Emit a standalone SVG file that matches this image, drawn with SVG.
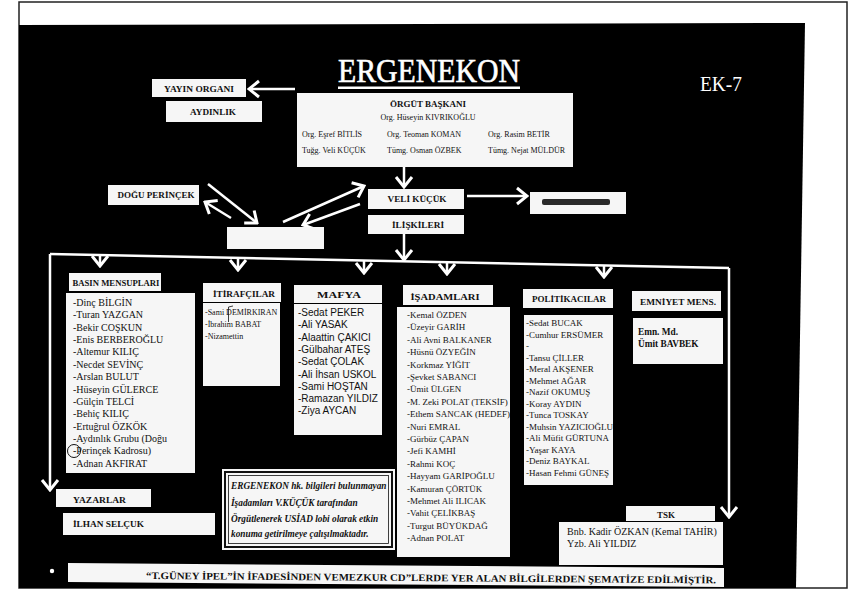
<svg xmlns="http://www.w3.org/2000/svg" width="852" height="591" viewBox="0 0 852 591">
<defs>
<style>
.bx{fill:#f6f6f6}
.lb{font-family:"Liberation Serif",serif;font-weight:bold;font-size:9px;fill:#111}
.it{font-family:"Liberation Serif",serif;font-size:10px;fill:#111}
.i9{font-family:"Liberation Serif",serif;font-size:9px;fill:#111}
.em{font-family:"Liberation Serif",serif;font-size:9.3px;font-weight:bold;fill:#111}
.sm{font-family:"Liberation Serif",serif;font-size:8px;fill:#111}
.ss{font-family:"Liberation Sans",sans-serif;font-size:10px;fill:#111}
.nt{font-family:"Liberation Serif",serif;font-style:italic;font-weight:bold;font-size:9.3px;fill:#111}
.ft{font-family:"Liberation Serif",serif;font-weight:bold;font-size:10px;fill:#111}
.cn{stroke:#fff;stroke-width:2.5;fill:none}
</style>
<marker id="ah" markerUnits="userSpaceOnUse" viewBox="-12 -10 14 20" markerWidth="14" markerHeight="20" refX="0" refY="0" orient="auto">
<path d="M-10,-8 L0,0 L-10,8" fill="none" stroke="#fff" stroke-width="3"/>
</marker>
</defs>
<rect x="0" y="0" width="852" height="591" fill="#fff"/>
<rect x="19" y="2" width="828" height="586" fill="#fff" stroke="#222" stroke-width="1.5"/>
<polygon points="19,25 805,23 796,588 19,588" fill="#000"/>

<g id="title">
<text x="338" y="82" font-family="Liberation Serif, serif" font-size="33" fill="#fff" stroke="#fff" stroke-width="0.6" textLength="182" lengthAdjust="spacingAndGlyphs">ERGENEKON</text>
<rect x="338" y="86.5" width="182" height="2.5" fill="#fff"/>
<text x="700" y="91" font-family="Liberation Serif, serif" font-size="21" fill="#fff" textLength="42" lengthAdjust="spacingAndGlyphs">EK-7</text>
</g>

<g id="connectors">
<line class="cn" x1="295" y1="89" x2="249" y2="89" marker-end="url(#ah)"/>
<line class="cn" x1="404" y1="167" x2="404" y2="187" marker-end="url(#ah)"/>
<line class="cn" x1="208" y1="184" x2="257" y2="223" marker-end="url(#ah)"/>
<line class="cn" x1="231" y1="218" x2="205" y2="202" marker-end="url(#ah)"/>
<line class="cn" x1="283" y1="222" x2="364" y2="186" stroke-width="4" marker-end="url(#ah)"/>
<line class="cn" x1="360" y1="204" x2="303" y2="225" marker-end="url(#ah)"/>
<line class="cn" x1="467" y1="196" x2="527" y2="196" marker-end="url(#ah)"/>
<line class="cn" x1="404" y1="234" x2="404" y2="260" marker-end="url(#ah)"/>
<line class="cn" x1="50" y1="254" x2="729" y2="268" stroke-width="2.2"/>
<line class="cn" x1="50" y1="254" x2="50" y2="490" marker-end="url(#ah)"/>
<line class="cn" x1="729" y1="268" x2="729" y2="517" marker-end="url(#ah)"/>
<line class="cn" x1="100" y1="255" x2="100" y2="266" marker-end="url(#ah)"/>
<line class="cn" x1="238" y1="258" x2="238" y2="270" marker-end="url(#ah)"/>
<line class="cn" x1="364" y1="260.5" x2="364" y2="273" marker-end="url(#ah)"/>
<line class="cn" x1="447" y1="262" x2="447" y2="274" marker-end="url(#ah)"/>
<line class="cn" x1="604" y1="265.5" x2="604" y2="277" marker-end="url(#ah)"/>
</g>

<g id="yayin">
<rect class="bx" x="152" y="79" width="94" height="18"/>
<text class="lb" x="199" y="92" text-anchor="middle" textLength="70" lengthAdjust="spacingAndGlyphs">YAYIN ORGANI</text>
</g>
<g id="aydinlik">
<rect class="bx" x="166" y="101" width="96" height="21"/>
<text class="lb" x="213" y="115" text-anchor="middle" textLength="46" lengthAdjust="spacingAndGlyphs">AYDINLIK</text>
</g>

<g id="orgut">
<rect class="bx" x="297" y="93" width="276" height="74"/>
<text class="lb" x="428" y="107" text-anchor="middle" textLength="76" lengthAdjust="spacingAndGlyphs">ÖRGÜT BAŞKANI</text>
<text class="sm" x="428" y="120" text-anchor="middle">Org. Hüseyin KIVRIKOĞLU</text>
<text class="sm" x="302" y="137">Org. Eşref BİTLİS</text>
<text class="sm" x="387" y="137">Org. Teoman KOMAN</text>
<text class="sm" x="488" y="137">Org. Rasim BETİR</text>
<text class="sm" x="302" y="153">Tuğg. Veli KÜÇÜK</text>
<text class="sm" x="387" y="153">Tümg. Osman ÖZBEK</text>
<text class="sm" x="488" y="153">Tümg. Nejat MÜLDÜR</text>
</g>

<g id="dogu">
<rect class="bx" x="108" y="185" width="91" height="20"/>
<text class="lb" x="156" y="198" text-anchor="middle" textLength="77" lengthAdjust="spacingAndGlyphs">DOĞU PERİNÇEK</text>
</g>
<g id="blank">
<rect class="bx" x="227" y="227" width="97" height="22"/>
</g>
<g id="veli">
<rect class="bx" x="368" y="189" width="96" height="20"/>
<text class="lb" x="417" y="202" text-anchor="middle" textLength="59" lengthAdjust="spacingAndGlyphs">VELİ KÜÇÜK</text>
</g>
<g id="iliskileri">
<rect class="bx" x="368" y="215" width="96" height="19"/>
<text class="lb" x="418" y="228" text-anchor="middle" textLength="52" lengthAdjust="spacingAndGlyphs">İLİŞKİLERİ</text>
</g>
<g id="redacted">
<rect class="bx" x="530" y="192" width="96" height="22"/>
<rect x="542" y="199" width="68" height="6" rx="2" fill="#2a2a2a"/>
</g>

<g id="basin">
<rect class="bx" x="69" y="273" width="92" height="18"/>
<text class="lb" x="116" y="286" text-anchor="middle" textLength="87" lengthAdjust="spacingAndGlyphs">BASIN MENSUPLARI</text>
<rect class="bx" x="66" y="293" width="129" height="180"/>
<text class="it">
<tspan x="73" y="306">-Dinç BİLGİN</tspan>
<tspan x="73" y="318.4">-Turan YAZGAN</tspan>
<tspan x="73" y="330.7">-Bekir COŞKUN</tspan>
<tspan x="73" y="343.1">-Enis BERBEROĞLU</tspan>
<tspan x="73" y="355.4">-Altemur KILIÇ</tspan>
<tspan x="73" y="367.8">-Necdet SEVİNÇ</tspan>
<tspan x="73" y="380.2">-Arslan BULUT</tspan>
<tspan x="73" y="392.5">-Hüseyin GÜLERCE</tspan>
<tspan x="73" y="404.9">-Gülçin TELCİ</tspan>
<tspan x="73" y="417.2">-Behiç KILIÇ</tspan>
<tspan x="73" y="429.6">-Ertuğrul ÖZKÖK</tspan>
<tspan x="73" y="442">-Aydınlık Grubu (Doğu</tspan>
<tspan x="73" y="454.3">-Perinçek Kadrosu)</tspan>
<tspan x="73" y="466.7">-Adnan AKFIRAT</tspan>
</text>
<circle cx="74" cy="451" r="6.5" fill="none" stroke="#111" stroke-width="1"/>
</g>

<g id="itirafcilar">
<rect class="bx" x="203" y="283" width="78" height="19"/>
<text class="lb" x="244" y="297" text-anchor="middle" textLength="62" lengthAdjust="spacingAndGlyphs">İTİRAFÇILAR</text>
<rect class="bx" x="203" y="303" width="77" height="83"/>
<text class="sm">
<tspan x="205" y="315">-Sami DEMİRKIRAN</tspan>
<tspan x="205" y="327">-İbrahim BABAT</tspan>
<tspan x="205" y="339">-Nizamettin</tspan>
</text>
<path d="M233,306 L228.5,307 L228.5,322" fill="none" stroke="#111" stroke-width="0.8"/>
</g>

<g id="mafya">
<rect class="bx" x="294" y="285" width="88" height="18"/>
<text class="lb" x="339" y="298" text-anchor="middle" textLength="44" lengthAdjust="spacingAndGlyphs">MAFYA</text>
<rect class="bx" x="294" y="304" width="88" height="131"/>
<text class="ss">
<tspan x="298" y="316">-Sedat PEKER</tspan>
<tspan x="298" y="328.3">-Ali YASAK</tspan>
<tspan x="298" y="340.6">-Alaattin ÇAKICI</tspan>
<tspan x="298" y="352.9">-Gülbahar ATEŞ</tspan>
<tspan x="298" y="365.2">-Sedat ÇOLAK</tspan>
<tspan x="298" y="377.5">-Ali İhsan USKOL</tspan>
<tspan x="298" y="389.8">-Sami HOŞTAN</tspan>
<tspan x="298" y="402.1">-Ramazan YILDIZ</tspan>
<tspan x="298" y="414.4">-Ziya AYCAN</tspan>
</text>
</g>

<g id="isadamlari">
<rect class="bx" x="403" y="285" width="90" height="20"/>
<text class="lb" x="445" y="300" text-anchor="middle" textLength="69" lengthAdjust="spacingAndGlyphs">İŞADAMLARI</text>
<rect class="bx" x="397" y="307" width="113" height="250"/>
<text class="i9">
<tspan x="407" y="318">-Kemal ÖZDEN</tspan>
<tspan x="407" y="330.4">-Üzeyir GARİH</tspan>
<tspan x="407" y="342.8">-Ali Avni BALKANER</tspan>
<tspan x="407" y="355.2">-Hüsnü ÖZYEĞİN</tspan>
<tspan x="407" y="367.6">-Korkmaz YİĞİT</tspan>
<tspan x="407" y="380">-Şevket SABANCI</tspan>
<tspan x="407" y="392.4">-Ümit ÜLGEN</tspan>
<tspan x="407" y="404.8">-M. Zeki POLAT (TEKSİF)</tspan>
<tspan x="407" y="417.2">-Ethem SANCAK (HEDEF)</tspan>
<tspan x="407" y="429.6">-Nuri EMRAL</tspan>
<tspan x="407" y="442">-Gürbüz ÇAPAN</tspan>
<tspan x="407" y="454.4">-Jefi KAMHİ</tspan>
<tspan x="407" y="466.8">-Rahmi KOÇ</tspan>
<tspan x="407" y="479.2">-Hayyam GARİPOĞLU</tspan>
<tspan x="407" y="491.6">-Kamuran ÇÖRTÜK</tspan>
<tspan x="407" y="504">-Mehmet Ali ILICAK</tspan>
<tspan x="407" y="516.4">-Vahit ÇELİKBAŞ</tspan>
<tspan x="407" y="528.8">-Turgut BÜYÜKDAĞ</tspan>
<tspan x="407" y="541.2">-Adnan POLAT</tspan>
</text>
</g>

<g id="politikacilar">
<rect class="bx" x="523" y="289" width="90" height="19"/>
<text class="lb" x="569" y="302" text-anchor="middle" textLength="74" lengthAdjust="spacingAndGlyphs">POLİTİKACILAR</text>
<rect class="bx" x="524" y="315" width="89" height="170"/>
<text class="i9">
<tspan x="526" y="326">-Sedat BUCAK</tspan>
<tspan x="526" y="337.5">-Cumhur ERSÜMER</tspan>
<tspan x="526" y="349">-</tspan>
<tspan x="526" y="360.5">-Tansu ÇİLLER</tspan>
<tspan x="526" y="372">-Meral AKŞENER</tspan>
<tspan x="526" y="383.5">-Mehmet AĞAR</tspan>
<tspan x="526" y="395">-Nazif OKUMUŞ</tspan>
<tspan x="526" y="406.5">-Koray AYDIN</tspan>
<tspan x="526" y="418">-Tunca TOSKAY</tspan>
<tspan x="526" y="429.5">-Muhsin YAZICIOĞLU</tspan>
<tspan x="526" y="441">-Ali Müfit GÜRTUNA</tspan>
<tspan x="526" y="452.5">-Yaşar KAYA</tspan>
<tspan x="526" y="464">-Deniz BAYKAL</tspan>
<tspan x="526" y="475.5">-Hasan Fehmi GÜNEŞ</tspan>
</text>
</g>

<g id="emniyet">
<rect class="bx" x="632" y="291" width="89" height="20"/>
<text class="lb" x="678" y="305" text-anchor="middle" textLength="76" lengthAdjust="spacingAndGlyphs">EMNİYET MENS.</text>
<rect class="bx" x="633" y="318" width="90" height="46"/>
<text class="em">
<tspan x="638" y="335">Emn. Md.</tspan>
<tspan x="638" y="347">Ümit BAVBEK</tspan>
</text>
</g>

<g id="yazarlar">
<rect class="bx" x="56" y="489" width="95" height="18"/>
<text class="lb" x="73" y="503" textLength="53" lengthAdjust="spacingAndGlyphs">YAZARLAR</text>
<rect class="bx" x="63" y="513" width="152" height="22"/>
<text class="lb" x="73" y="527" textLength="71" lengthAdjust="spacingAndGlyphs">İLHAN SELÇUK</text>
</g>

<g id="note">
<rect class="bx" x="222" y="469" width="173" height="81"/>
<rect x="225" y="472" width="167" height="75" fill="none" stroke="#111" stroke-width="2"/>
<rect x="228.5" y="475.5" width="160" height="68" fill="none" stroke="#111" stroke-width="0.8"/>
<text class="nt">
<tspan x="231" y="489">ERGENEKON hk. bilgileri bulunmayan</tspan>
<tspan x="231" y="506">İşadamları V.KÜÇÜK tarafından</tspan>
<tspan x="231" y="522">Örgütlenerek USİAD lobi olarak etkin</tspan>
<tspan x="231" y="537">konuma getirilmeye çalışılmaktadır.</tspan>
</text>
</g>

<g id="tsk">
<rect class="bx" x="626" y="506" width="89" height="15"/>
<text class="lb" x="666" y="518" text-anchor="middle" textLength="18" lengthAdjust="spacingAndGlyphs">TSK</text>
<rect class="bx" x="559" y="522" width="164" height="43"/>
<text class="it">
<tspan x="567" y="535">Bnb. Kadir ÖZKAN (Kemal TAHİR)</tspan>
<tspan x="567" y="547">Yzb. Ali YILDIZ</tspan>
</text>
</g>

<g id="footer">
<circle cx="52" cy="571" r="2.2" fill="#fff"/>
<polygon class="bx" points="68,563 724,568 724,587 68,582"/>
<text class="ft" x="146" y="579" textLength="570" lengthAdjust="spacingAndGlyphs" transform="rotate(0.44 146 579)">“T.GÜNEY İPEL”İN İFADESİNDEN VEMEZKUR CD”LERDE YER ALAN BİLGİLERDEN ŞEMATİZE EDİLMİŞTİR.</text>
</g>
</svg>
